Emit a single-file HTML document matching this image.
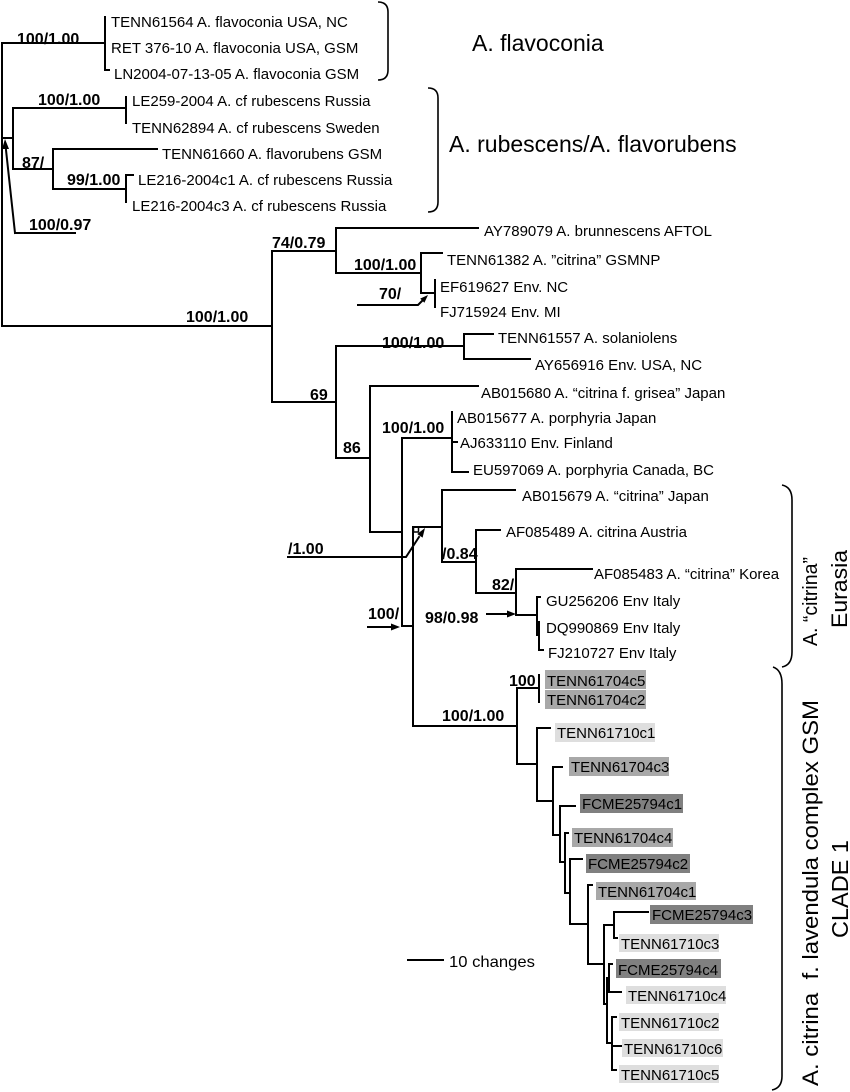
<!DOCTYPE html>
<html><head><meta charset="utf-8"><style>
html,body{margin:0;padding:0;background:#fff;}
svg{display:block;}
text{font-family:"Liberation Sans",Arial,sans-serif;fill:#000;}
.t{font-size:15px;}
.b{font-size:16px;font-weight:bold;}
.big{font-size:23px;}
</style></head><body>
<svg width="850" height="1092" viewBox="0 0 850 1092" xmlns="http://www.w3.org/2000/svg">
<rect width="850" height="1092" fill="#fff"/>
<g stroke="#000" stroke-width="2" fill="none" stroke-linecap="square">
<path d="M2 43 V326 M2 43 H105 M105 17 V70 H109
M2 138 H13 M13 108 V169 M13 108 H126 M126 97 V123
M13 169 H53 M53 149 V189 M53 149 H157 M53 189 H126 M126 175 V202 M126 175 H133
M15 233 H75 M15 233 L6 150
M2 326 H272 M272 251 V402 M272 251 H336 M336 228 V273 M336 228 H478
M336 273 H421 M421 253 V293 M421 253 H442 M421 293 H435 M435 280 V307
M358 305 H418 L422 301
M272 402 H336 M336 346 V458 M336 346 H464 M464 334 V359 M464 334 H493 M464 359 H530
M336 458 H370 M370 386 V532 M370 386 H478 M370 532 H402
M402 438 V626 M402 438 H452 M452 412 V472 M452 442 H457 M452 472 H468
M402 626 H413 M413 527 V726 M413 527 H442
M288 557 H406 L419 537
M368 627 H392
M442 490 V562 M442 490 H515 M442 562 H476
M476 530 V593 M476 530 H500 M476 593 H516
M516 569 V615 M516 569 H592 M516 615 H537
M537 597 V635 M537 597 H540 M539 622 V650 H543
M487 614 H508
M413 726 H517 M517 688 V764 M517 688 H539 M539 675 V702
M517 764 H537 M537 728 V801 M537 728 H550
M537 801 H553 M553 767 V835 M553 767 H562
M553 835 H560 M560 806 V862 M560 806 H575
M560 862 H565 M565 833 V893 M565 833 H568
M565 893 H570 M570 859 V924 M570 859 H582
M570 924 H588 M588 885 V964 M588 885 H592
M588 964 H604 M604 925 V1004 M604 925 H614 M614 912 V938 M614 912 H648 M614 938 H617
M604 1004 H607 M607 978 V1043 M607 978 H609 M609 964 V992 M609 964 H612 M609 992 H621
M607 1043 H612 M612 1017 V1070 M612 1017 H616 M612 1046 H622 M612 1070 H616
M408 960 H443"/>
</g>
<rect x="413.5" y="527" width="5" height="5" fill="none" stroke="#000" stroke-width="1.5"/>
<g fill="#000">
<polygon points="5,139 9,149 2,149"/>
<polygon points="428,295 424.4,302.8 420.2,298.6"/>
<polygon points="425,528 422.6,537.6 417.2,534"/>
<polygon points="400,627 391,623.5 391,630.5"/>
<polygon points="516,614 507,610.5 507,617.5"/>
</g>
<g stroke="#000" stroke-width="1.6" fill="none">
<path d="M378 2 Q388 2 388 12 V70 Q388 80 378 80"/>
<path d="M428 88 Q438 88 438 98 V202 Q438 212 428 212"/>
<path d="M782 485 Q792 487 792 500 V652 Q792 665 782 667"/>
<path d="M773 667 Q782 670 782 684 V1076 Q782 1088 772 1090"/>
</g>
<!-- gray boxes -->
<g>
<rect x="545" y="670" width="101" height="19" fill="#a8a8a8"/>
<rect x="545" y="690" width="101" height="19" fill="#a8a8a8"/>
<rect x="555" y="723" width="100" height="19" fill="#dedede"/>
<rect x="569" y="757" width="100" height="19" fill="#a8a8a8"/>
<rect x="580" y="794" width="103" height="19" fill="#808080"/>
<rect x="572" y="828" width="101" height="19" fill="#a8a8a8"/>
<rect x="586" y="854" width="104" height="19" fill="#808080"/>
<rect x="596" y="882" width="100" height="18" fill="#a8a8a8"/>
<rect x="650" y="905" width="103" height="19" fill="#808080"/>
<rect x="619" y="934" width="100" height="18" fill="#dedede"/>
<rect x="616" y="959" width="105" height="19" fill="#808080"/>
<rect x="626" y="986" width="100" height="18" fill="#dedede"/>
<rect x="619" y="1013" width="100" height="18" fill="#dedede"/>
<rect x="622" y="1039" width="101" height="18" fill="#dedede"/>
<rect x="619" y="1065" width="100" height="18" fill="#dedede"/>
</g>
<g class="t" xml:space="preserve">
<text x="111" y="27">TENN61564 A. flavoconia USA, NC</text>
<text x="111" y="53">RET 376-10 A. flavoconia USA, GSM</text>
<text x="114" y="79">LN2004-07-13-05  A. flavoconia GSM</text>
<text x="132" y="106">LE259-2004 A. cf rubescens Russia</text>
<text x="132" y="133">TENN62894 A. cf rubescens Sweden</text>
<text x="162" y="159">TENN61660 A. flavorubens GSM</text>
<text x="138" y="185">LE216-2004c1 A. cf rubescens Russia</text>
<text x="132" y="211">LE216-2004c3 A. cf rubescens Russia</text>
<text x="484" y="236">AY789079 A. brunnescens AFTOL</text>
<text x="447" y="265">TENN61382 A. ”citrina” GSMNP</text>
<text x="440" y="292">EF619627 Env. NC</text>
<text x="440" y="317">FJ715924 Env. MI</text>
<text x="498" y="343">TENN61557 A. solaniolens</text>
<text x="535" y="370">AY656916 Env. USA, NC</text>
<text x="481" y="398">AB015680 A. “citrina f. grisea” Japan</text>
<text x="457" y="423">AB015677 A. porphyria Japan</text>
<text x="460" y="448">AJ633110 Env. Finland</text>
<text x="473" y="475">EU597069 A. porphyria Canada, BC</text>
<text x="522" y="501">AB015679 A. “citrina” Japan</text>
<text x="506" y="537">AF085489 A. citrina Austria</text>
<text x="594" y="579">AF085483 A. “citrina” Korea</text>
<text x="546" y="606">GU256206 Env Italy</text>
<text x="546" y="633">DQ990869 Env Italy</text>
<text x="548" y="658">FJ210727 Env Italy</text>
<text x="547" y="686">TENN61704c5</text>
<text x="547" y="705">TENN61704c2</text>
<text x="557" y="738">TENN61710c1</text>
<text x="571" y="772">TENN61704c3</text>
<text x="582" y="809">FCME25794c1</text>
<text x="574" y="843">TENN61704c4</text>
<text x="588" y="869">FCME25794c2</text>
<text x="598" y="897">TENN61704c1</text>
<text x="652" y="920">FCME25794c3</text>
<text x="621" y="949">TENN61710c3</text>
<text x="618" y="975">FCME25794c4</text>
<text x="628" y="1001">TENN61710c4</text>
<text x="621" y="1028">TENN61710c2</text>
<text x="624" y="1054">TENN61710c6</text>
<text x="621" y="1080">TENN61710c5</text>
</g>
<text x="449" y="967" font-size="16" textLength="86" lengthAdjust="spacingAndGlyphs">10 changes</text>
<g class="b">
<text x="17" y="44">100/1.00</text>
<text x="38" y="105">100/1.00</text>
<text x="22" y="168">87/</text>
<text x="67" y="185">99/1.00</text>
<text x="29" y="230">100/0.97</text>
<text x="272" y="248">74/0.79</text>
<text x="186" y="322">100/1.00</text>
<text x="354" y="270">100/1.00</text>
<text x="379" y="299">70/</text>
<text x="382" y="348">100/1.00</text>
<text x="310" y="400">69</text>
<text x="343" y="453">86</text>
<text x="382" y="433">100/1.00</text>
<text x="288" y="554">/1.00</text>
<text x="442" y="559">/0.84</text>
<text x="492" y="590">82/</text>
<text x="425" y="623">98/0.98</text>
<text x="368" y="619">100/</text>
<text x="509" y="686">100</text>
<text x="442" y="721">100/1.00</text>
</g>
<text class="big" x="472" y="51">A. flavoconia</text>
<text class="big" x="449" y="152">A. rubescens/A. flavorubens</text>
<text x="817" y="646" font-size="20" transform="rotate(-90 817 646)" textLength="89" lengthAdjust="spacingAndGlyphs">A. “citrina”</text>
<text x="847" y="628" font-size="22" transform="rotate(-90 847 628)" textLength="78" lengthAdjust="spacingAndGlyphs">Eurasia</text>
<text x="818" y="1086" font-size="22" transform="rotate(-90 818 1086)" textLength="386" lengthAdjust="spacingAndGlyphs" xml:space="preserve">A. citrina  f. lavendula complex GSM</text>
<text x="848" y="938" font-size="23" transform="rotate(-90 848 938)" textLength="98" lengthAdjust="spacingAndGlyphs">CLADE 1</text>
</svg>
</body></html>
